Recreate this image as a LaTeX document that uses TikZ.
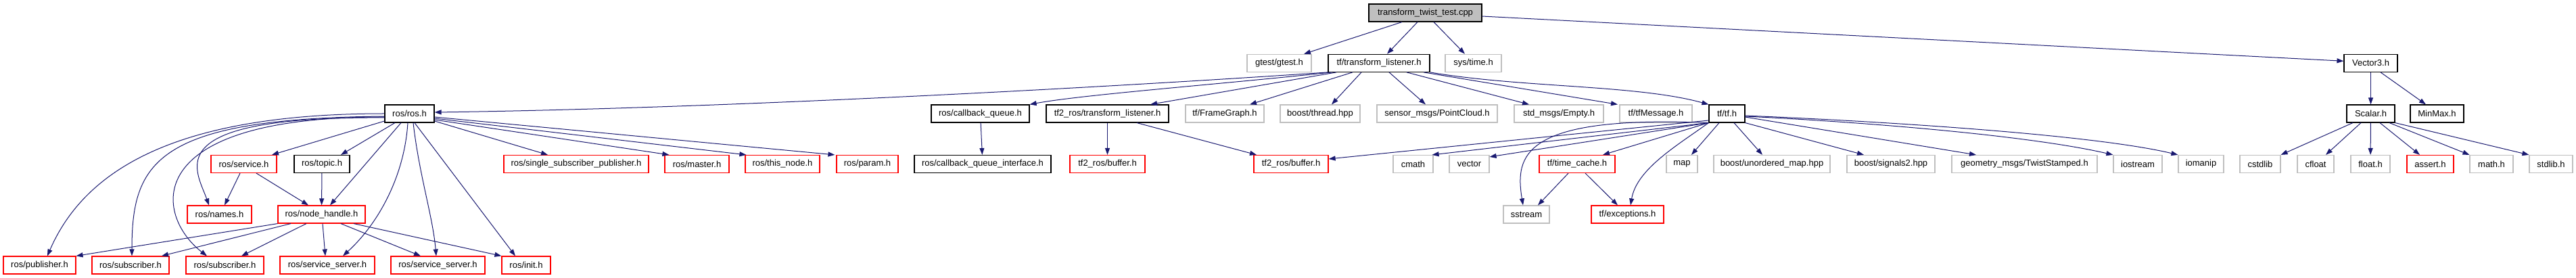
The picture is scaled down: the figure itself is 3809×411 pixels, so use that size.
\documentclass[tikz,border=0pt]{standalone}
\usepackage{fontspec}
\setmainfont{Liberation Sans}
\usetikzlibrary{arrows.meta}
\definecolor{edgec}{HTML}{191970}
\definecolor{gbord}{HTML}{BFBFBF}
\definecolor{gfill}{HTML}{BFBFBF}
\definecolor{rbord}{HTML}{FF0000}
\begin{document}
\begin{tikzpicture}[x=1pt,y=-1pt,
  box/.style={draw, line width=1.15pt, minimum height=26pt, inner sep=0pt, fill=white, font=\fontsize{13}{15}\selectfont},
  blk/.style={box, draw=black},
  ext/.style={box, draw=gbord},
  redbox/.style={box, draw=rbord},
  root/.style={box, draw=black, fill=gfill},
  dep/.style={draw=edgec, line width=1pt, -{Triangle[length=10pt,width=7pt]}}
]
\useasboundingbox (0,0) rectangle (3809,411);
% row 0
\node[root, minimum width=167pt] (main) at (2107.5,19) {transform\_twist\_test.cpp};
% row 1
\node[ext, minimum width=95pt] (gtest) at (1891.5,93.3) {gtest/gtest.h};
\node[blk, minimum width=150pt] (tfl) at (2039,93.3) {tf/transform\_listener.h};
\node[ext, minimum width=83pt] (systime) at (2178.5,93.3) {sys/time.h};
\node[blk, minimum width=79pt] (vec3) at (3505.5,93.3) {Vector3.h};
% row 2
\node[blk, minimum width=73pt] (ros) at (605.5,168) {ros/ros.h};
\node[blk, minimum width=145pt] (cbq) at (1449.5,168) {ros/callback\_queue.h};
\node[blk, minimum width=181pt] (tf2tl) at (1637.5,168) {tf2\_ros/transform\_listener.h};
\node[ext, minimum width=116pt] (framegraph) at (1811,168) {tf/FrameGraph.h};
\node[ext, minimum width=118pt] (bthread) at (1952,168) {boost/thread.hpp};
\node[ext, minimum width=178pt] (pointcloud) at (2125,168) {sensor\_msgs/PointCloud.h};
\node[ext, minimum width=132pt] (empty) at (2305,168) {std\_msgs/Empty.h};
\node[ext, minimum width=107pt] (tfmsg) at (2448.5,168) {tf/tfMessage.h};
\node[blk, minimum width=53pt] (tf) at (2553.5,168) {tf/tf.h};
\node[blk, minimum width=71pt] (scalar) at (3505.5,168) {Scalar.h};
\node[blk, minimum width=79pt] (minmax) at (3603.5,168) {MinMax.h};
% row 3
\node[redbox, minimum width=97pt] (service) at (360.5,242.5) {ros/service.h};
\node[blk, minimum width=82pt] (topic) at (476,242.5) {ros/topic.h};
\node[redbox, minimum width=214pt] (ssp) at (852,242.5) {ros/single\_subscriber\_publisher.h};
\node[redbox, minimum width=95pt] (master) at (1030.5,242.5) {ros/master.h};
\node[redbox, minimum width=110pt] (thisnode) at (1157,242.5) {ros/this\_node.h};
\node[redbox, minimum width=91pt] (param) at (1282.5,242.5) {ros/param.h};
\node[blk, minimum width=202pt] (cbqi) at (1453,242.5) {ros/callback\_queue\_interface.h};
\node[redbox, minimum width=111pt] (buf1) at (1637.5,242.5) {tf2\_ros/buffer.h};
\node[redbox, minimum width=110pt] (buf2) at (1909,242.5) {tf2\_ros/buffer.h};
\node[ext, minimum width=59pt] (cmath) at (2089.5,242.5) {cmath};
\node[ext, minimum width=59pt] (vector) at (2172.5,242.5) {vector};
\node[redbox, minimum width=112pt] (timecache) at (2332,242.5) {tf/time\_cache.h};
\node[ext, minimum width=46pt] (map) at (2487,242.5) {map};
\node[ext, minimum width=172pt] (umap) at (2620,242.5) {boost/unordered\_map.hpp};
\node[ext, minimum width=130pt] (signals2) at (2796,242.5) {boost/signals2.hpp};
\node[ext, minimum width=215pt] (twist) at (2993.5,242.5) {geometry\_msgs/TwistStamped.h};
\node[ext, minimum width=72pt] (iostream) at (3161,242.5) {iostream};
\node[ext, minimum width=67pt] (iomanip) at (3254.5,242.5) {iomanip};
\node[ext, minimum width=60pt] (cstdlib) at (3342,242.5) {cstdlib};
\node[ext, minimum width=54pt] (cfloat) at (3424,242.5) {cfloat};
\node[ext, minimum width=58pt] (floath) at (3505,242.5) {float.h};
\node[redbox, minimum width=69pt] (asserth) at (3593.5,242.5) {assert.h};
\node[ext, minimum width=64pt] (mathh) at (3684,242.5) {math.h};
\node[ext, minimum width=64pt] (stdlibh) at (3772,242.5) {stdlib.h};
% row 4
\node[redbox, minimum width=95pt] (names) at (324.5,317) {ros/names.h};
\node[redbox, minimum width=129pt] (nh) at (475.5,317) {ros/node\_handle.h};
\node[ext, minimum width=68pt] (sstream) at (2257,317) {sstream};
\node[redbox, minimum width=107pt] (exceptions) at (2406.5,317) {tf/exceptions.h};
% row 5
\node[redbox, minimum width=107pt] (pub) at (58.5,392) {ros/publisher.h};
\node[redbox, minimum width=114pt] (sub1) at (193,392) {ros/subscriber.h};
\node[redbox, minimum width=115pt] (sub2) at (332.5,392) {ros/subscriber.h};
\node[redbox, minimum width=140pt] (ss1) at (484,392) {ros/service\_server.h};
\node[redbox, minimum width=139pt] (ss2) at (647.5,392) {ros/service\_server.h};
\node[redbox, minimum width=72pt] (init) at (778,392) {ros/init.h};

% edges from main
\draw[dep] ([xshift=-34.5pt]main.south) -- ([xshift=36.5pt]gtest.north);
\draw[dep] ([xshift=-11.5pt]main.south) -- ([xshift=12pt]tfl.north);
\draw[dep] ([xshift=12.5pt]main.south) -- ([xshift=-12.5pt]systime.north);
\draw[dep] ([yshift=-5pt]main.east) -- ([yshift=3pt]vec3.west);
% edges from tf/transform_listener.h
\draw[dep] (tfl.south west) .. controls (1700,125) and (1100,160) .. ([yshift=2pt]ros.east);
\draw[dep] ([xshift=-70pt]tfl.south) .. controls (1800,125) and (1600,140) .. (cbq.north east);
\draw[dep] ([xshift=-63pt]tfl.south) -- ([xshift=63.5pt]tf2tl.north);
\draw[dep] ([xshift=-39pt]tfl.south) -- ([xshift=37pt]framegraph.north);
\draw[dep] ([xshift=-26pt]tfl.south) -- ([xshift=17pt]bthread.north);
\draw[dep] ([xshift=15pt]tfl.south) -- ([xshift=-17pt]pointcloud.north);
\draw[dep] ([xshift=41pt]tfl.south) -- ([xshift=-44pt]empty.north);
\draw[dep] ([xshift=66pt]tfl.south) -- ([xshift=-56.5pt]tfmsg.north);
\draw[dep] (tfl.south east) .. controls (2250,130) and (2420,125) .. (tf.north west);
% edges from ros/ros.h
\draw[dep] (ros.west) .. controls (280,168) and (130,240) .. ([xshift=11.5pt]pub.north);
\draw[dep] ([yshift=-4pt]ros.west) .. controls (230,175) and (195,240) .. ([xshift=2pt]sub1.north);
\draw[dep] ([yshift=-5pt]ros.west) .. controls (200,172) and (230,320) .. ([xshift=-26.5pt]sub2.north);
\draw[dep] ([yshift=-6pt]ros.west) .. controls (230,172) and (290,250) .. ([xshift=-15.5pt]names.north);
\draw[dep] ([yshift=-11pt]ros.west) -- ([xshift=41.5pt]service.north);
\draw[dep] ([xshift=-21.5pt]ros.south) -- ([xshift=28pt]topic.north);
\draw[dep] ([xshift=-12.5pt]ros.south) -- ([xshift=12.5pt]nh.north);
\draw[dep] ([xshift=-2.5pt]ros.south) .. controls (598,260) and (560,330) .. ([xshift=23pt]ss1.north);
\draw[dep] ([xshift=5.5pt]ros.south) .. controls (620,260) and (640,320) .. ([xshift=-2.5pt]ss2.north);
\draw[dep] ([xshift=7.5pt]ros.south) -- ([xshift=-16pt]init.north);
\draw[dep] ([yshift=-11pt]ros.east) -- ([xshift=-42pt]ssp.north);
\draw[dep] ([yshift=-9pt]ros.east) -- ([xshift=7pt]master.north west);
\draw[dep] ([yshift=-7pt]ros.east) -- ([xshift=2pt]thisnode.north west);
\draw[dep] ([yshift=-5pt]ros.east) -- ([xshift=-2pt]param.north west);
% service, topic
\draw[dep] ([xshift=-5.5pt]service.south) -- ([xshift=7.5pt]names.north);
\draw[dep] ([xshift=18.5pt]service.south) -- ([xshift=-19.5pt]nh.north);
\draw[dep] (topic) -- (nh);
% node_handle
\draw[dep] (nh.south west) -- (pub.north east);
\draw[dep] ([xshift=-45.5pt]nh.south) -- ([xshift=46pt]sub1.north);
\draw[dep] ([xshift=-22.5pt]nh.south) -- ([xshift=24.5pt]sub2.north);
\draw[dep] ([xshift=1.5pt]nh.south) -- ([xshift=-3pt]ss1.north);
\draw[dep] ([xshift=28.5pt]nh.south) -- ([xshift=-25.5pt]ss2.north);
\draw[dep] ([xshift=47.5pt]nh.south) -- (init.north west);
% callback queue, tf2_ros
\draw[dep] (cbq) -- (cbqi);
\draw[dep] (tf2tl) -- (buf1);
\draw[dep] ([xshift=43.5pt]tf2tl.south) -- ([xshift=-51pt]buf2.north);
% tf/tf.h
\draw[dep] ([yshift=-10pt]tf.west) -- ([yshift=7.5pt]buf2.east);
\draw[dep] (tf.south west) -- ([xshift=-2pt]cmath.north east);
\draw[dep] (tf.south west) -- ([yshift=-3pt]vector.north east);
\draw[dep] (tf.south west) -- ([xshift=38pt]timecache.north);
\draw[dep] (tf.south west) .. controls (2250,170) and (2240,230) .. ([xshift=-5pt]sstream.north);
\draw[dep] (tf.south west) .. controls (2480,215) and (2420,250) .. ([xshift=4.5pt]exceptions.north);
\draw[dep] ([xshift=-11.5pt]tf.south) -- ([xshift=14pt]map.north);
\draw[dep] ([xshift=10.5pt]tf.south) -- ([xshift=-14pt]umap.north);
\draw[dep] (tf.south east) -- ([xshift=-40pt]signals2.north);
\draw[dep] ([yshift=-5pt]tf.east) -- ([xshift=-71.5pt]twist.north);
\draw[dep] ([yshift=-4pt]tf.east) .. controls (2750,180) and (3000,200) .. (iostream.north west);
\draw[dep] ([yshift=-3pt]tf.east) .. controls (2800,180) and (3100,200) .. (iomanip.north west);
% time cache
\draw[dep] ([xshift=-13pt]timecache.south) -- ([xshift=17pt]sstream.north);
\draw[dep] ([xshift=12pt]timecache.south) -- ([xshift=-14.5pt]exceptions.north);
% Vector3 / Scalar
\draw[dep] (vec3) -- (scalar);
\draw[dep] ([xshift=14.5pt]vec3.south) -- ([xshift=-16.5pt]minmax.north);
\draw[dep] ([xshift=-26.5pt]scalar.south) -- (cstdlib.north east);
\draw[dep] ([xshift=-14.5pt]scalar.south) -- ([xshift=15pt]cfloat.north);
\draw[dep] (scalar) -- (floath);
\draw[dep] ([xshift=13.5pt]scalar.south) -- ([xshift=-15.5pt]asserth.north);
\draw[dep] ([xshift=27.5pt]scalar.south) -- (mathh.north west);
\draw[dep] (scalar.south east) -- (stdlibh.north west);
\end{tikzpicture}
\end{document}
